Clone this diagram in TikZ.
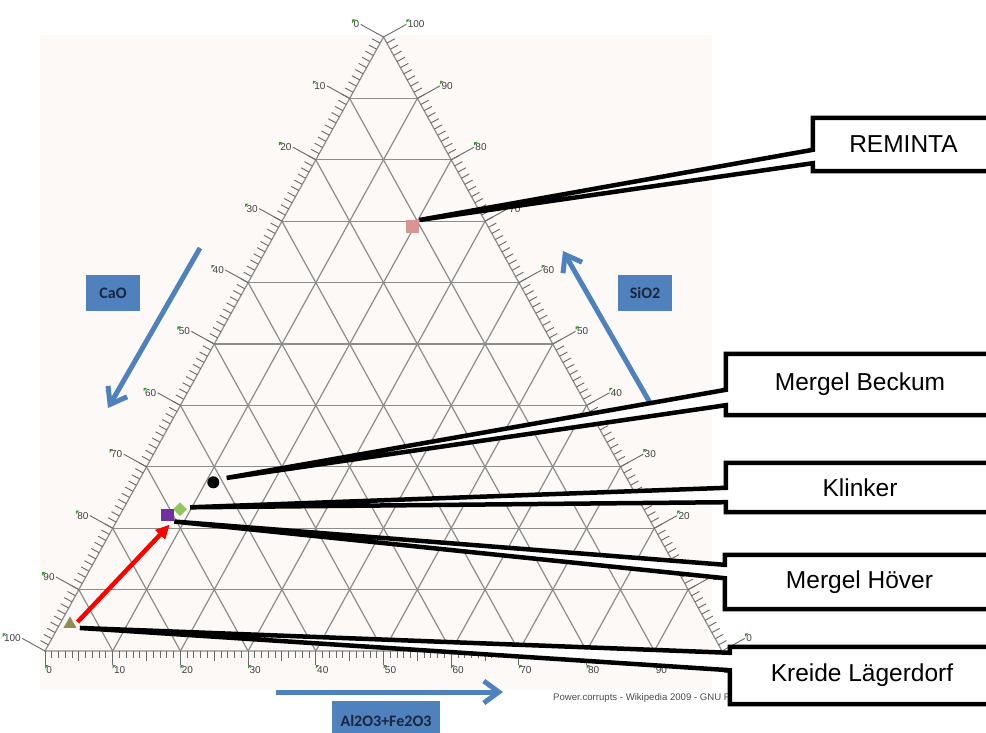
\documentclass[tikz,border=0pt]{standalone}
\usepackage{fontspec}
\setmainfont{Liberation Sans}
\newfontfamily\calfont{Carlito}
\usetikzlibrary{calc,shapes.geometric,arrows.meta}
\definecolor{gridgray}{HTML}{8C8C8C}
\definecolor{bgcream}{HTML}{FCF9F6}
\definecolor{axblue}{HTML}{4F81BD}
\definecolor{labnavy}{HTML}{1A2540}
\definecolor{tickgreen}{HTML}{2E9E2E}
\definecolor{remred}{HTML}{D99594}
\definecolor{klgreen}{HTML}{8DC85A}
\definecolor{mhpurple}{HTML}{7030A0}
\definecolor{krolive}{HTML}{948A54}
\begin{document}
\begin{tikzpicture}[x=1pt,y=-1pt]
  \tikzset{gr/.style={draw=gridgray,line width=1.2pt},
    tk/.style={draw=gridgray!75!black,line width=0.9pt},
    ax/.style={font=\fontsize{10}{11}\selectfont,text=black!75,inner sep=1pt},
    mk/.style={inner sep=0pt,minimum size=#1},
    cbox/.style={fill=white,inner sep=0pt,font=\fontsize{24.5}{28}\selectfont},
    call/.style={line width=4.5pt,miter limit=2},
    lbox/.style={fill=axblue,text=labnavy,inner sep=0pt,font=\calfont\bfseries\fontsize{16}{18}\selectfont},
    barr/.style={draw=axblue,line width=5pt,-{Straight Barb[length=15pt,width=22pt]}}}
  \useasboundingbox (0,0) rectangle (986,732);
  \fill[bgcream] (40,35) rectangle (712,690);
  \coordinate (A) at (383.5,37);
  \coordinate (B) at (45,651);
  \coordinate (C) at (722,651);

  \node[lbox,minimum width=54pt,minimum height=36pt] (cao) at (113,293) {CaO};
  \node[lbox,minimum width=54pt,minimum height=36pt] (sio) at (645,293) {SiO2};
  \node[lbox,minimum width=108pt,minimum height=40pt] (alfe) at (386,721) {Al2O3+Fe2O3};
  \coordinate (caoS) at (200,248);
  \coordinate (caoE) at (108,408);
  \coordinate (sioS) at (653,408);
  \coordinate (sioE) at (563,251);
  \coordinate (alfeS) at (276,692);
  \coordinate (alfeE) at (503,692);
  \draw[barr] (caoS) -- (caoE);
  \draw[barr] (sioS) -- (sioE);
  \draw[barr] (alfeS) -- (alfeE);

  \draw[gr] (A) -- (B) -- (C) -- cycle;
  \foreach \i in {1,...,9}{
    \draw[gr] ($(A)!\i/10!(B)$) -- ($(A)!\i/10!(C)$);
    \draw[gr] ($(B)!\i/10!(C)$) -- ($(A)!\i/10!(C)$);
    \draw[gr] ($(B)!\i/10!(C)$) -- ($(B)!\i/10!(A)$);
  }
  \foreach \i in {1,...,99}{
    \draw[tk] ($(A)!\i/100!(B)$) -- ++(-7.9,-4.3);
    \draw[tk] ($(A)!\i/100!(C)$) -- ++(7.9,-4.3);
    \draw[tk] ($(B)!\i/100!(C)$) -- ++(0,7);
  }
  \foreach \k in {0,...,9}
    \draw[tk] ($(B)!\k/10+0.05!(C)$) -- ++(0,10);
  \foreach \k [evaluate=\k as \v using int(10*\k), evaluate=\k as \w using int(100-10*\k)] in {0,...,10}{
    \draw[tk] ($(A)!\k/10!(B)$) -- ++(-22.8,-12.6) node[ax,anchor=east] (lf\k) {\v};
    \draw[tk] ($(A)!\k/10!(C)$) -- ++(22.8,-12.6) node[ax,anchor=west] (rt\k) {\w};
    \draw[tk] ($(B)!\k/10!(C)$) -- ++(0,14) node[ax,anchor=north west] (bt\k) {\v};
    \fill[tickgreen] (lf\k.north west) -- ++(3.5,0) -- ++(-3.5,3.5) -- cycle;
    \fill[tickgreen] (rt\k.north west) -- ++(3.5,0) -- ++(-3.5,3.5) -- cycle;
    \fill[tickgreen] (bt\k.north west) -- ++(3.5,0) -- ++(-3.5,3.5) -- cycle;
  }
  \node[anchor=west,inner sep=0pt,text=black!70,font=\fontsize{9.6}{11}\selectfont] (cred) at (553,698) {Power.corrupts - Wikipedia 2009 - GNU FDL};

  \node[mk=13pt,rectangle,fill=remred] (rem) at (412.7,226.7) {};
  \node[mk=12pt,circle,fill=black] (mbk) at (213.3,482.3) {};
  \node[mk=14pt,diamond,fill=klgreen] (kl) at (180,509.3) {};
  \node[mk=12.7pt,rectangle,fill=mhpurple] (mh) at (167.7,515) {};
  \node[mk=15pt,regular polygon,regular polygon sides=3,fill=krolive] (kr) at (70,624) {};
  \draw[red,line width=4.5pt,-{Triangle[length=14pt,width=13pt]}] ([xshift=3,yshift=2]kr.east) -- ([xshift=2,yshift=-3]mh.south);

  \node[cbox,minimum width=181pt,minimum height=53pt] (remB) at (903.5,144.5) {REMINTA};
  \fill[white] ([yshift=-32]remB.north west) -- (rem.north east) -- ([yshift=8]remB.south west) -- cycle;
  \draw[call] ([yshift=8]remB.south west) -- (remB.south west) -- (remB.south east) -- (remB.north east) -- (remB.north west) -- ([yshift=-32]remB.north west) -- (rem.north east) -- cycle;

  \node[cbox,minimum width=268pt,minimum height=61pt] (mbkB) at (860,384.5) {Mergel Beckum};
  \fill[white] ([yshift=-36]mbkB.north west) -- ([xshift=9]mbk.north east) -- ([yshift=10]mbkB.south west) -- cycle;
  \draw[call] ([yshift=10]mbkB.south west) -- (mbkB.south west) -- (mbkB.south east) -- (mbkB.north east) -- (mbkB.north west) -- ([yshift=-36]mbkB.north west) -- ([xshift=9]mbk.north east) -- cycle;

  \node[cbox,minimum width=268pt,minimum height=49pt] (klB) at (860,487.5) {Klinker};
  \fill[white] ([yshift=-25]klB.north west) -- ([xshift=3,yshift=2]kl.east) -- ([yshift=10]klB.south west) -- cycle;
  \draw[call] ([yshift=10]klB.south west) -- (klB.south west) -- (klB.south east) -- (klB.north east) -- (klB.north west) -- ([yshift=-25]klB.north west) -- ([xshift=3,yshift=2]kl.east) -- cycle;

  \node[cbox,minimum width=269pt,minimum height=54pt] (mhB) at (859.5,582) {Mergel Höver};
  \fill[white] ([yshift=-10]mhB.north west) -- (mh.south east) -- ([yshift=31]mhB.south west) -- cycle;
  \draw[call] ([yshift=31]mhB.south west) -- (mhB.south west) -- (mhB.south east) -- (mhB.north east) -- (mhB.north west) -- ([yshift=-10]mhB.north west) -- (mh.south east) -- cycle;

  \node[cbox,minimum width=264pt,minimum height=57pt] (krB) at (862,675.5) {Kreide Lägerdorf};
  \fill[white] ([yshift=-6]krB.north west) -- ([xshift=3]kr.corner 3) -- ([yshift=34]krB.south west) -- cycle;
  \draw[call] ([yshift=34]krB.south west) -- (krB.south west) -- (krB.south east) -- (krB.north east) -- (krB.north west) -- ([yshift=-6]krB.north west) -- ([xshift=3]kr.corner 3) -- cycle;
\end{tikzpicture}
\end{document}
